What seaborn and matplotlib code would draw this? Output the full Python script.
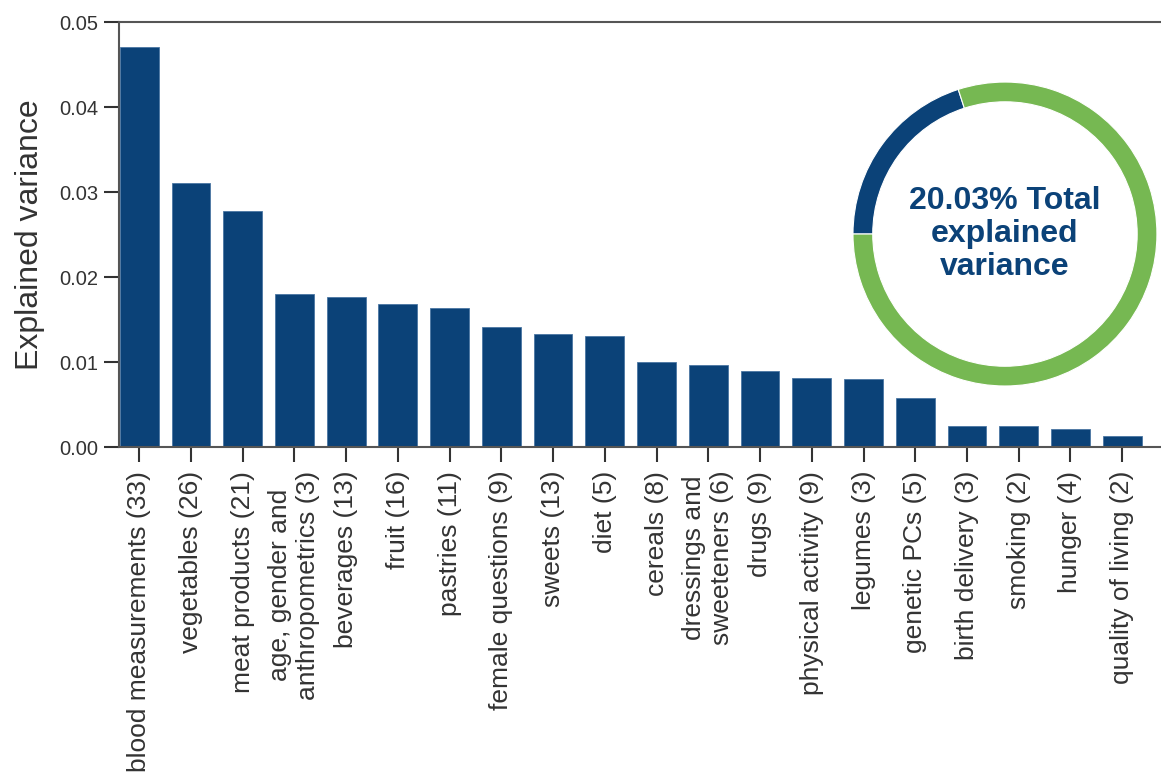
import matplotlib
matplotlib.use("Agg")
import matplotlib.pyplot as plt
import pandas as pd
import seaborn as sns

# ── Data ────────────────────────────────────────────────────────────────
categories = [
    "blood measurements (33)",
    "vegetables (26)",
    "meat products (21)",
    "age, gender and\nanthropometrics (3)",
    "beverages (13)",
    "fruit (16)",
    "pastries (11)",
    "female questions (9)",
    "sweets (13)",
    "diet (5)",
    "cereals (8)",
    "dressings and\nsweeteners (6)",
    "drugs (9)",
    "physical activity (9)",
    "legumes (3)",
    "genetic PCs (5)",
    "birth delivery (3)",
    "smoking (2)",
    "hunger (4)",
    "quality of living (2)",
]
explained = [
    0.0471, 0.0311, 0.0278, 0.0180, 0.0177, 0.0168, 0.0163, 0.0141, 0.0133, 0.0131,
    0.0100, 0.0097, 0.0090, 0.0081, 0.0080, 0.0058, 0.0025, 0.0025, 0.0021, 0.0013,
]
y_ticks = [0.00, 0.01, 0.02, 0.03, 0.04, 0.05]
total_pct = 20.03

BLUE = "#0b4278"
GREEN = "#76b852"
SPINE = "#555555"
TEXT = "#333333"

sns.set_style("ticks")
plt.rcParams["font.family"] = ["Liberation Sans", "DejaVu Sans"]

fig = plt.figure(figsize=(11.61, 7.73), dpi=100)
ax = fig.add_axes([0.1025, 0.4217, 0.8975, 0.5498])

df = pd.DataFrame({"category": categories, "explained": explained})
sns.barplot(data=df, x="category", y="explained", color=BLUE, saturation=1,
            width=0.75, edgecolor="#4a76a3", linewidth=0.6, ax=ax)

ax.set_xlim(-0.39, len(categories) - 0.25)
ax.set_ylim(0, 0.05)
ax.set_yticks(y_ticks)
ax.set_yticklabels([f"{v:.2f}" for v in y_ticks], fontsize=14.5, color=TEXT)
ax.set_xticks(range(len(categories)))
ax.set_xticklabels(categories, rotation=90, fontsize=19, color=TEXT,
                   ha="center", va="top", multialignment="center")
ax.set_xlabel("")
ax.set_ylabel("Explained variance", fontsize=23, color=TEXT, labelpad=10)

for side in ["left", "bottom", "top"]:
    ax.spines[side].set_color(SPINE)
    ax.spines[side].set_linewidth(1.5)
ax.spines["right"].set_visible(False)
ax.tick_params(axis="both", direction="out", length=11, width=1.5, color="#333333")
ax.tick_params(axis="x", pad=6)
ax.tick_params(axis="y", pad=4)

# ── Donut with total explained variance ─────────────────────────────────
dax = fig.add_axes([0.7347, 0.5006, 0.2618, 0.3933])
dax.pie([total_pct, 100 - total_pct], colors=[BLUE, GREEN], startangle=180,
        counterclock=False, radius=1,
        wedgeprops=dict(width=0.13, edgecolor="white", linewidth=0.8))
dax.set_xlim(-1, 1)
dax.set_ylim(-1, 1)
dax.set_aspect("equal")
dax.axis("off")
dax.text(0, 0, f"{total_pct:.2f}% Total\nexplained\nvariance", ha="center",
         va="center", fontsize=23, fontweight="bold", color=BLUE,
         linespacing=1.15)

fig.savefig("out.png", dpi=100)
